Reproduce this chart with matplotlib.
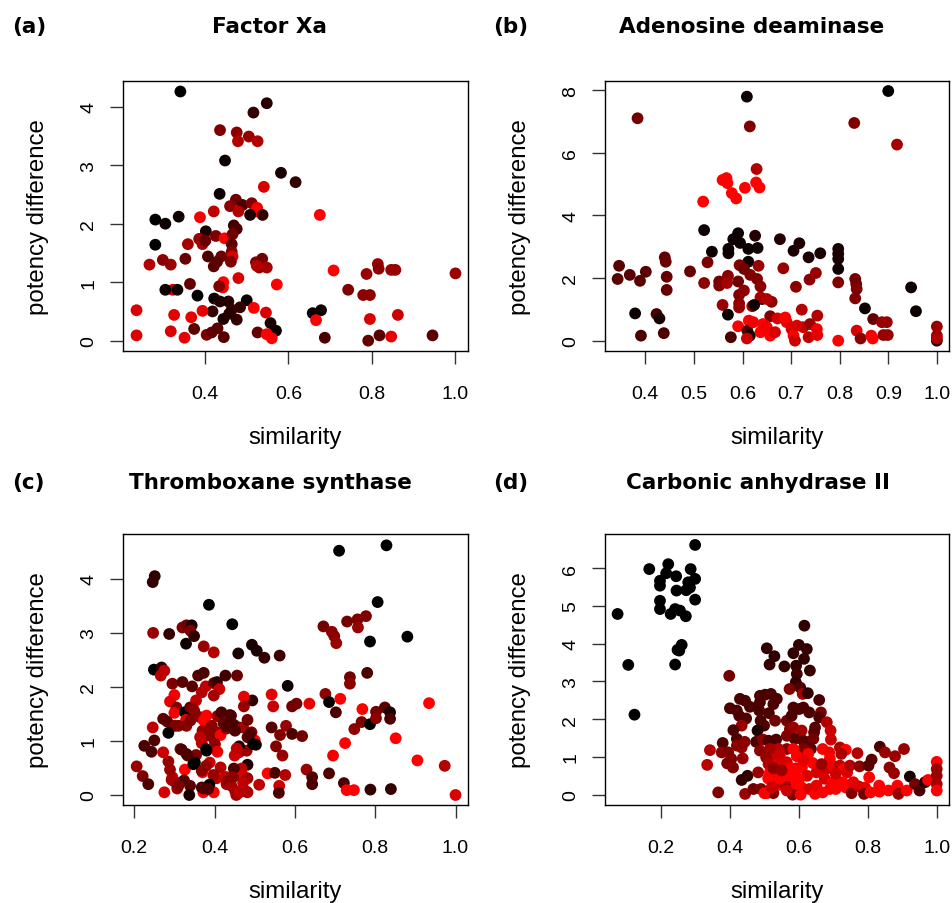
import matplotlib
matplotlib.use("Agg")
import matplotlib.pyplot as plt
import numpy as np

# ---------------- data ----------------
titles = ["Factor Xa", "Adenosine deaminase", "Thromboxane synthase", "Carbonic anhydrase II"]
panel_tags = ["(a)", "(b)", "(c)", "(d)"]
x_label = "similarity"
y_label = "potency difference"

a_sim = [0.341,0.548,0.516,0.436,0.476,0.479,0.505,0.526,0.448,0.582,
0.617,0.541,0.435,0.474,0.490,0.460,0.512,0.525,0.522,0.508,
0.538,0.480,0.421,0.388,0.281,0.305,0.337,0.675,0.281,0.267,
0.299,0.318,0.353,0.359,0.402,0.386,0.394,0.401,0.426,0.447,
0.469,0.476,0.466,0.464,0.464,0.466,0.462,0.407,0.439,0.429,
0.421,0.444,0.443,0.434,0.480,0.522,0.537,0.530,0.548,0.524,
0.572,0.364,0.323,0.305,0.334,0.382,0.422,0.436,0.456,0.500,
0.484,0.464,0.418,0.444,0.476,0.458,0.517,0.546,0.557,0.570,
0.236,0.236,0.326,0.367,0.394,0.318,0.351,0.374,0.404,0.416,
0.430,0.445,0.526,0.548,0.560,0.658,0.678,0.666,0.687,0.708,
0.743,0.779,0.795,0.787,0.814,0.816,0.846,0.856,0.795,0.862,
0.818,0.791,0.846,0.945,1.0]
a_pot = [4.26,4.06,3.90,3.60,3.56,3.41,3.49,3.41,3.08,2.87,
2.71,2.63,2.51,2.41,2.32,2.30,2.35,2.27,2.21,2.15,
2.15,2.21,2.21,2.11,2.07,2.00,2.12,2.15,1.64,1.30,
1.38,1.30,1.40,1.65,1.87,1.74,1.65,1.71,1.79,1.75,
1.97,1.91,1.82,1.65,1.52,1.44,1.35,1.44,1.44,1.35,
1.27,1.00,0.91,0.93,1.07,1.34,1.40,1.25,1.25,1.28,
0.96,0.97,0.87,0.87,0.87,0.77,0.72,0.67,0.67,0.69,
0.57,0.53,0.50,0.37,0.36,0.46,0.56,0.48,0.30,0.17,
0.52,0.09,0.44,0.40,0.51,0.16,0.05,0.20,0.10,0.14,
0.21,0.06,0.14,0.11,0.04,0.47,0.52,0.35,0.05,1.20,
0.87,0.78,0.78,1.14,1.31,1.23,1.21,1.21,0.37,0.44,
0.09,0.00,0.07,0.09,1.15]
a_shade = [0,0.15,0.2,0.5,0.55,0.7,0.6,0.7,0.05,0.1,
0.2,0.85,0.05,0.45,0.3,0.55,0.5,0.95,1.0,0.1,
0.2,0.7,0.75,0.95,0,0.05,0.05,1.0,0,0.7,
0.55,0.6,0.4,0.65,0.1,0.6,0.65,0.4,0.5,1.0,
0.25,0.3,0.45,0.35,0.5,0.85,0.5,0.3,0.45,0.35,
0.35,1.0,1.0,0.5,0.85,0.5,0.45,0.55,0.65,0.7,
1.0,0.4,0.85,0.05,0.05,0.0,0.05,0.15,0.15,0.05,
0.2,0.2,0.2,0.1,0.2,0.15,1.0,0.85,0.1,0.05,
0.85,0.85,0.9,0.9,0.9,0.85,0.9,0.35,0.5,0.4,
0.35,0.35,0.4,1.0,1.0,0.05,0.05,1.0,0.3,1.0,
0.5,0.55,0.55,0.6,0.6,0.55,0.6,0.6,0.85,0.8,
0.35,0.4,0.9,0.35,0.6]

b_sim = [0.384,0.609,0.615,0.830,0.900,0.918,0.519,0.559,0.567,0.569,
0.578,0.587,0.605,0.628,0.635,0.629,0.521,0.537,0.571,0.571,
0.581,0.591,0.595,0.612,0.626,0.631,0.612,0.677,0.705,0.717,
0.736,0.760,0.797,0.797,0.797,0.797,0.797,0.346,0.343,0.368,
0.389,0.401,0.379,0.391,0.423,0.429,0.438,0.440,0.442,0.444,
0.444,0.492,0.528,0.521,0.552,0.552,0.570,0.568,0.559,0.570,
0.576,0.591,0.594,0.603,0.616,0.633,0.630,0.637,0.640,0.637,
0.660,0.650,0.593,0.593,0.593,0.603,0.620,0.624,0.684,0.710,
0.738,0.751,0.657,0.672,0.722,0.754,0.591,0.613,0.610,0.615,
0.609,0.622,0.637,0.642,0.650,0.657,0.667,0.691,0.688,0.701,
0.705,0.708,0.712,0.725,0.736,0.739,0.753,0.754,0.797,0.832,
0.834,0.835,0.832,0.852,0.835,0.843,0.869,0.865,0.868,0.887,
0.897,0.890,0.899,0.947,0.957,1.0,1.0,1.0,1.0]
b_pot = [7.10,7.79,6.84,6.95,7.97,6.26,4.44,5.13,5.19,5.03,
4.71,4.54,4.88,5.05,4.89,5.48,3.53,2.84,2.93,2.79,
3.24,3.43,3.12,2.93,3.35,2.96,2.52,3.24,2.87,3.11,
2.66,2.79,2.93,2.77,2.61,2.29,1.86,2.39,1.97,2.10,
1.91,2.20,0.87,0.16,0.85,0.71,0.24,2.66,2.52,2.04,
1.62,2.21,2.50,1.84,1.89,1.76,2.07,1.84,1.14,0.83,
0.11,1.89,2.41,2.29,2.10,2.39,1.97,1.73,1.33,1.38,
1.24,1.33,1.46,1.19,1.06,1.60,1.10,1.14,2.31,1.72,
1.95,2.16,0.78,0.71,0.99,0.80,0.46,0.64,0.32,0.16,
0.07,0.59,0.27,0.53,0.43,0.16,0.27,0.59,0.74,0.37,
0.16,0.00,0.48,0.43,0.11,0.53,0.37,0.18,0.00,1.97,
1.81,1.65,1.35,1.03,0.32,0.07,0.69,0.16,0.07,0.59,
0.59,0.18,0.18,1.70,0.94,0.45,0.16,0.00,0.07]
b_shade = [0.45,0.05,0.5,0.5,0,0.65,1,1,1,1,
1,1,1,1,1,0.7,0.05,0.05,0.05,0.05,
0.05,0.05,0.05,0.05,0.15,0.05,0.05,0.15,0.1,0.1,
0.1,0.1,0.1,0.1,0.1,0.05,0.5,0.35,0.35,0.35,
0.35,0.35,0.05,0.3,0.3,0.1,0.3,0.4,0.4,0.4,
0.4,0.4,0.5,0.55,0.45,0.5,0.55,0.65,0.6,0.05,
0.3,0.45,0.5,0.45,0.5,0.6,0.5,0.55,0.05,0.65,
0.55,0.7,0.5,0.55,0.6,0.55,0.65,0.05,0.6,0.55,
0.55,0.6,0.5,0.85,0.7,0.7,1,1,0.3,0.05,
0.8,0.95,1,1,0.95,1,0.85,0.9,1,0.85,
1,0.8,0.85,0.8,0.75,0.6,0.95,0.9,1,0.45,
0.45,0.5,0.5,0.05,0.85,0.55,0.4,0.95,1,0.6,
0.6,0.6,0.6,0.05,0.05,0.6,0.6,0.05,0.7]

c_sim = [0.246,0.251,0.247,0.287,0.329,0.320,0.330,0.343,0.340,0.349,
0.386,0.373,0.398,0.444,0.459,0.493,0.505,0.524,0.562,0.427,
0.456,0.582,0.249,0.268,0.266,0.275,0.295,0.320,0.344,0.359,
0.373,0.368,0.378,0.398,0.406,0.412,0.398,0.300,0.289,0.305,
0.300,0.272,0.282,0.301,0.326,0.329,0.339,0.354,0.349,0.330,
0.340,0.364,0.373,0.380,0.370,0.380,0.364,0.368,0.379,0.398,
0.405,0.407,0.415,0.401,0.407,0.422,0.438,0.448,0.430,0.461,
0.471,0.482,0.494,0.473,0.473,0.492,0.482,0.500,0.503,0.480,
0.461,0.461,0.450,0.455,0.482,0.467,0.448,0.471,0.482,0.482,
0.454,0.430,0.430,0.415,0.405,0.398,0.397,0.387,0.372,0.372,
0.388,0.370,0.379,0.347,0.354,0.351,0.333,0.315,0.326,0.324,
0.339,0.337,0.307,0.300,0.295,0.289,0.285,0.272,0.275,0.246,
0.250,0.243,0.225,0.221,0.206,0.235,0.285,
0.511,0.532,0.550,0.561,0.560,0.576,0.569,0.553,0.563,0.578,
0.593,0.542,0.546,0.542,0.593,0.604,0.618,0.636,0.629,0.643,
0.643,0.676,0.685,0.702,0.713,0.695,0.685,0.722,0.725,0.729,
0.747,0.710,0.828,0.806,0.880,0.787,0.671,0.692,0.698,0.703,
0.730,0.756,0.757,0.777,0.737,0.737,0.780,0.748,0.766,0.787,
0.768,0.802,0.802,0.824,0.837,0.837,0.851,0.788,0.839,0.905,
0.934,0.973,1.0,
0.347,0.310,0.393,0.417,0.430,0.441,0.451,0.488,0.496,0.380,
0.368,0.368,0.384,0.426,0.434,0.442,0.451,0.463,0.480,0.446,
0.471,0.293,0.310,0.318,0.330,0.347]
c_pot = [3.94,4.05,3.00,2.98,2.80,3.10,3.14,3.14,3.04,2.94,
3.52,2.75,2.64,3.16,2.62,2.78,2.67,2.54,2.58,2.21,
2.21,2.02,2.32,2.36,2.21,2.30,2.06,2.09,2.01,2.21,
2.26,1.90,2.01,2.07,2.09,1.96,1.84,1.85,1.73,1.62,
1.52,1.41,1.36,1.28,1.53,1.39,1.62,1.75,1.56,1.28,
1.38,1.44,1.38,1.47,1.19,1.10,1.07,0.96,0.85,1.04,
1.16,1.46,1.11,0.94,0.80,1.33,1.48,1.30,1.23,1.25,
1.25,1.39,1.75,1.82,1.64,1.16,1.07,1.01,0.93,0.82,
0.90,0.79,0.73,0.86,0.56,0.49,0.49,0.36,0.31,0.05,
0.00,0.20,0.33,0.51,0.31,0.05,0.37,0.19,0.05,0.12,
0.60,0.42,0.54,0.68,0.74,0.60,0.73,0.85,0.47,0.27,
0.17,0.00,0.12,0.25,0.33,0.47,0.62,0.79,0.05,1.25,
1.01,0.80,0.91,0.35,0.53,0.20,1.15,
0.19,0.40,0.41,0.17,0.04,0.37,0.73,0.90,1.11,1.28,
1.13,1.25,1.64,1.86,1.64,1.69,1.09,1.69,0.47,0.33,
0.20,1.87,1.72,1.53,1.78,0.73,0.40,0.22,0.96,0.09,
0.09,4.52,4.62,3.57,2.93,2.84,3.12,3.02,2.94,2.81,
3.21,3.25,3.10,3.31,2.18,2.06,2.26,1.22,1.35,1.31,
1.59,1.54,1.42,1.62,1.53,1.41,1.05,0.10,0.11,0.64,
1.70,0.54,0.00,
1.59,1.28,1.28,1.53,1.28,1.47,1.19,1.13,0.94,0.82,
0.45,0.14,0.11,0.33,0.27,0.17,0.08,0.05,0.06,0.33,
0.23,0.28,0.17,0.84,0.76,0.57]
c_shade = [0.2,0.2,0.6,0.2,0.05,0.5,0.45,0.1,0.5,0.2,
0.0,0.6,0.7,0.0,0.1,0.1,0.1,0.2,0.25,0.25,
0.4,0.05,0.0,0.2,0.75,0.75,0.5,0.35,0.35,0.3,
0.3,0.7,0.75,0.45,0.2,0.8,0.65,0.95,0.9,0.5,
0.95,0.35,0.35,0.5,0.0,0.9,0.4,0.75,0.35,0.55,
0.5,0.55,1.0,1.0,0.6,0.55,0.75,0.75,0.0,0.55,
0.5,0.6,1.0,0.55,0.9,0.4,0.35,0.3,0.55,0.3,
0.65,0.45,0.2,0.9,0.6,0.5,0.35,1.0,0.05,0.6,
0.1,0.65,0.8,0.75,0.1,0.75,0.3,0.85,0.6,0.65,
0.65,0.65,0.75,0.7,0.75,1.0,0.6,0.0,1.0,0.3,
0.8,1.0,0.6,1.0,0.5,0.0,0.3,0.5,1.0,0.3,
0.35,0.1,0.65,0.6,0.75,0.6,0.6,0.8,0.85,0.75,
0.3,0.3,0.3,0.5,0.6,0.3,0.0,
0.75,1.0,0.3,0.8,0.3,0.7,0.6,0.5,0.5,0.6,
0.3,0.35,0.8,0.9,0.45,0.45,0.45,0.9,0.6,0.3,
0.3,0.55,0.0,0.3,1.0,0.95,0.3,0.3,1.0,1.0,
1.0,0.0,0.0,0.0,0.0,0.0,0.45,0.55,0.55,0.6,
0.45,0.5,0.6,0.5,0.45,0.55,0.3,0.55,0.5,0.0,
1.0,0.45,0.55,0.35,0.1,0.3,1.0,0.2,0.2,1.0,
1.0,0.7,0.85,
0.55,0.5,0.55,0.3,0.3,0.3,0.3,0.3,0.0,0.0,
0.55,0.3,0.3,0.75,0.55,0.65,0.65,0.75,0.7,0.55,
0.75,0.65,0.5,0.3,0.3,0.0]

d_sim = [0.074,0.105,0.123,0.166,0.197,0.197,0.197,0.197,0.221,0.215,
0.244,0.245,0.228,0.241,0.255,0.272,0.286,0.279,0.273,0.284,
0.299,0.299,0.299,0.260,0.253,0.241,0.248,0.398,0.507,0.529,
0.515,0.558,0.584,0.600,0.616,0.623,0.615,0.592,0.594,0.632,
0.591,0.573,0.604,0.611,0.626,0.659,0.664,0.659,0.647,0.644,
0.681,0.692,0.693,0.400,0.420,0.429,0.444,0.458,0.427,0.447,
0.434,0.410,0.420,0.434,0.379,0.376,0.395,0.404,0.392,0.409,
0.437,0.342,0.334,0.366,0.434,0.451,0.444,0.468,0.490,0.507,
0.526,0.487,0.502,0.519,0.536,0.487,0.526,0.485,0.513,0.531,
0.489,0.499,0.480,0.476,0.496,0.512,0.534,0.487,0.482,0.565,
0.579,0.584,0.601,0.613,0.630,0.574,0.584,0.608,0.565,0.588,
0.613,0.627,0.642,0.635,0.613,0.596,0.565,0.541,0.516,0.545,
0.526,0.505,0.512,0.538,0.565,0.594,0.593,0.578,0.609,0.627,
0.640,0.651,0.624,0.601,0.583,0.579,0.608,0.630,0.647,0.582,
0.605,0.545,0.526,0.511,0.500,0.540,0.560,0.565,0.669,0.688,
0.690,0.679,0.698,0.675,0.698,0.690,0.707,0.719,0.736,0.723,
0.719,0.730,0.740,0.748,0.727,0.736,0.753,0.770,0.776,0.773,
0.792,0.789,0.804,0.802,0.811,0.808,0.835,0.850,0.833,0.834,
0.860,0.863,0.876,0.879,0.905,0.886,0.889,0.913,0.922,0.937,
0.950,0.966,0.975,1.0,1.0,1.0,1.0,1.0,
0.516,0.545,0.568,0.588,0.613,0.651,0.669,0.526,0.550,0.666,
0.707,0.758,0.584,0.521,0.420,0.443]
d_pot = [4.79,3.44,2.12,5.98,5.67,5.54,5.14,4.92,6.11,5.87,
5.79,5.41,4.79,4.92,4.88,4.73,5.98,5.63,5.42,5.49,
5.72,5.17,6.62,3.97,3.82,3.45,3.84,3.15,3.88,3.67,
3.45,3.40,3.75,3.97,4.48,3.86,3.60,3.42,3.20,3.29,
2.98,2.80,2.84,2.67,2.69,2.51,2.18,2.05,1.78,1.65,
1.92,1.70,1.46,2.29,2.23,2.54,2.49,2.33,2.09,2.02,
1.83,1.71,1.48,1.25,1.37,1.12,1.12,0.95,0.83,0.72,
0.96,1.18,0.79,0.06,0.39,0.50,0.02,0.15,0.15,0.04,
0.04,2.62,2.65,2.67,2.54,2.45,2.40,2.23,2.16,1.96,
1.96,1.83,1.70,1.40,1.46,1.43,1.46,1.17,0.59,1.96,
2.09,2.31,2.27,2.31,2.18,1.74,1.78,1.70,1.56,1.48,
1.43,1.39,1.48,1.21,1.21,1.03,1.21,1.21,1.21,1.03,
0.95,0.99,0.81,0.81,0.86,1.02,0.70,0.70,0.72,1.08,
0.84,0.59,0.50,0.42,0.33,0.19,0.19,0.15,0.02,0.00,
0.00,0.26,0.24,0.43,0.04,0.55,0.26,0.11,1.21,1.12,
0.96,0.68,0.77,0.42,0.33,0.15,0.15,1.25,1.19,1.08,
0.77,0.68,0.59,0.77,0.33,0.19,0.04,1.10,0.75,0.22,
0.19,0.02,0.46,0.77,0.93,0.06,1.27,1.12,0.24,0.08,
0.11,0.72,0.57,1.02,1.21,0.24,0.02,0.11,0.48,0.28,
0.11,0.33,0.39,0.87,0.68,0.50,0.28,0.11,
0.59,0.42,0.50,0.59,0.90,0.24,0.06,0.70,0.64,0.81,
0.55,0.33,1.21,0.19,1.30,1.40]
d_shade = [0,0,0,0,0,0,0,0,0,0,
0,0,0,0,0,0,0,0,0,0,
0,0,0,0,0,0,0,0.45,0.2,0.2,
0.2,0.2,0.2,0.2,0.2,0.2,0.2,0.2,0.25,0.2,
0.2,0.5,0.3,0.65,0.2,0.3,0.5,0.3,0.35,0.35,
0.7,0.8,0.8,0.3,0.3,0.3,0.3,0.3,0.3,0.3,
0.6,0.3,0.3,0.6,0.3,0.55,0.5,0.5,0.5,0.5,
0.6,0.7,0.75,0.5,0.2,0.2,0.6,0.45,0.5,1.0,
0.5,0.3,0.3,0.3,0.3,0.3,0.3,0.3,0.3,0.45,
0.3,0.3,0.1,0.3,0.55,0.3,0.3,0.55,0.6,0.45,
0.3,0.3,0.3,0.3,0.3,0.5,0.6,0.65,0.5,0.35,
0.35,0.35,0.45,0.35,0.5,0.5,0.55,0.75,0.65,0.8,
0.8,0.6,0.7,0.85,0.85,1.0,0.9,1.0,1.0,1.0,
1.0,0.85,0.85,1.0,1.0,1.0,1.0,0.85,1.0,0.5,
1.0,1.0,0.75,1.0,1.0,0.8,0.6,0.8,1.0,0.95,
1.0,0.8,0.95,0.85,1.0,0.95,1.0,0.7,1.0,0.65,
0.75,1.0,0.85,0.7,1.0,1.0,0.5,0.7,0.55,0.8,
0.9,0.45,1.0,0.35,0.35,1.0,0.3,0.6,1.0,1.0,
1.0,0.55,0.6,0.6,0.6,1.0,0.6,1.0,0.1,0.45,
0.3,0.1,1.0,1.0,0.6,0.6,0.65,1.0,
1.0,1.0,1.0,1.0,0.9,0.9,1.0,0.55,0.6,0.6,
0.8,0.9,1.0,0.8,0.55,0.55]

x_ticks = [[0.4, 0.6, 0.8, 1.0],
           [0.4, 0.5, 0.6, 0.7, 0.8, 0.9, 1.0],
           [0.2, 0.4, 0.6, 0.8, 1.0],
           [0.2, 0.4, 0.6, 0.8, 1.0]]
y_ticks = [[0, 1, 2, 3, 4],
           [0, 2, 4, 6, 8],
           [0, 1, 2, 3, 4],
           [0, 1, 2, 3, 4, 5, 6]]

panels = [(a_sim, a_pot, a_shade), (b_sim, b_pot, b_shade),
          (c_sim, c_pot, c_shade), (d_sim, d_pot, d_shade)]

# ---------------- layout ----------------
W, H = 952, 904
fig = plt.figure(figsize=(W / 100, H / 100), dpi=100)
fig.patch.set_facecolor("white")

boxes = [(123, 82, 468, 352), (605, 82, 949, 352),
         (123, 535, 468, 806), (605, 535, 949, 806)]
xlims = [(0.2036, 1.030), (0.317, 1.025), (0.172, 1.031), (0.0375, 1.0356)]
ylims = [(-0.177, 4.44), (-0.33, 8.29), (-0.185, 4.83), (-0.274, 6.91)]
title_cx = [269, 752, 270, 758]
tag_x = [12, 493, 12, 493]
title_y = [27, 27, 483, 483]

lab_font = "Liberation Sans"
for i, (sim, pot, shade) in enumerate(panels):
    assert len(sim) == len(pot) == len(shade), (i, len(sim), len(pot), len(shade))
    l, t, r, b = boxes[i]
    ax = fig.add_axes([l / W, 1 - b / H, (r - l) / W, (b - t) / H])
    cols = [(s, 0.0, 0.0) for s in shade]
    ax.scatter(sim, pot, s=72, c=cols, linewidths=0, zorder=3)
    ax.set_xlim(*xlims[i])
    ax.set_ylim(*ylims[i])
    ax.set_xticks(x_ticks[i])
    ax.set_xticklabels(["%.1f" % v for v in x_ticks[i]], fontfamily=lab_font, fontsize=14)
    ax.set_yticks(y_ticks[i])
    ax.set_yticklabels(["%d" % v for v in y_ticks[i]], fontfamily=lab_font, fontsize=14,
                       rotation=90, va="center")
    ax.tick_params(direction="out", length=9.4, width=1.0, color="#333333")
    ax.tick_params(axis="x", pad=15)
    ax.tick_params(axis="y", pad=9)
    for sp in ax.spines.values():
        sp.set_linewidth(1.0)
        sp.set_color("black")
    cx = (l + r) / 2
    cy = (t + b) / 2
    fig.text(cx / W, 1 - (b + 86) / H, x_label, ha="center", va="center",
             fontfamily=lab_font, fontsize=17.3)
    fig.text((l - 85) / W, 1 - cy / H, y_label, ha="center", va="center",
             rotation=90, fontfamily=lab_font, fontsize=17.3)
    fig.text(title_cx[i] / W, 1 - title_y[i] / H, titles[i], ha="center", va="center",
             fontfamily="DejaVu Sans", fontweight="bold", fontsize=15.5)
    fig.text(tag_x[i] / W, 1 - title_y[i] / H, panel_tags[i], ha="left", va="center",
             fontfamily="DejaVu Sans", fontweight="bold", fontsize=15.5)

fig.savefig("out.png", dpi=100, facecolor="white")
